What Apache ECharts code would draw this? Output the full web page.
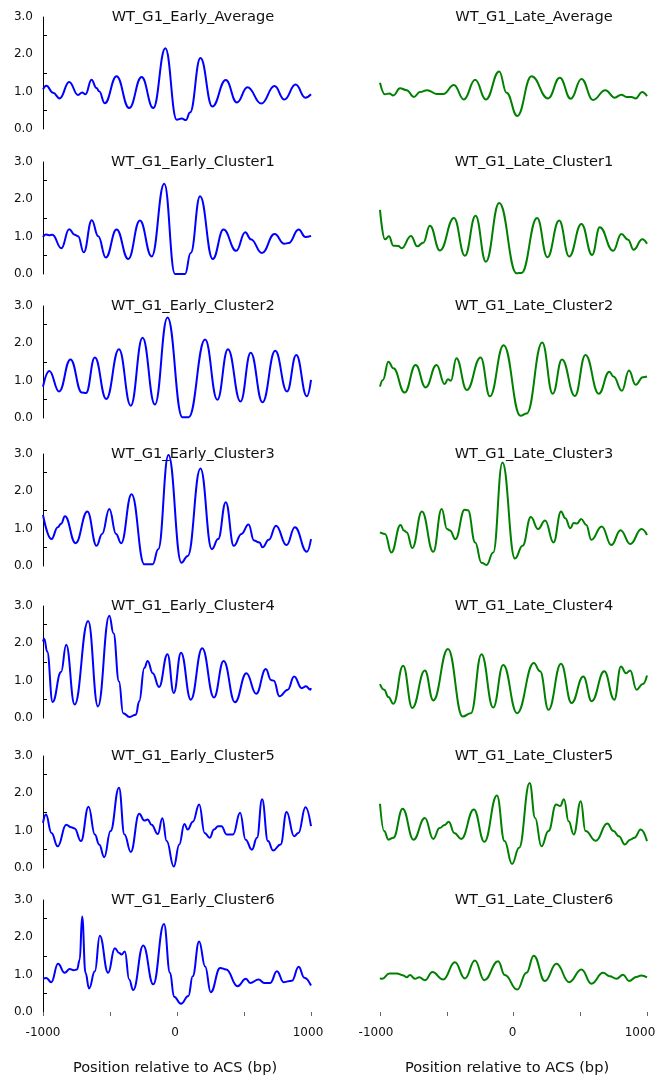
<!DOCTYPE html>
<html>
<head>
<meta charset="utf-8">
<script src="https://cdn.jsdelivr.net/npm/echarts@6/dist/echarts.min.js"></script>
<style>
html,body{margin:0;padding:0;background:#fff;}
#chart{width:657px;height:1083px;}
</style>
</head>
<body>
<div id="chart"></div>
<script>
// ---- data: [position (bp), value] ----
const earlyAverage = [[-1000,1.06],[-975,1.16],[-925,0.97],[-875,0.82],[-805,1.26],[-738,0.91],[-708,0.98],[-683,0.93],[-638,1.32],[-601,1.10],[-581,1.01],[-539,0.69],[-451,1.41],[-357,0.56],[-264,1.39],[-177,0.56],[-87,2.16],[-2,0.25],[35,0.28],[67,0.24],[97,0.44],[175,1.90],[264,0.60],[364,1.31],[447,0.71],[526,1.12],[629,0.68],[728,1.15],[801,0.79],[885,1.19],[958,0.84],[1000,0.93]];
const lateAverage = [[-1000,1.24],[-963,0.93],[-930,0.95],[-900,0.90],[-850,1.09],[-800,1.04],[-746,0.86],[-701,0.99],[-646,1.04],[-576,0.94],[-526,0.94],[-446,1.18],[-372,0.79],[-287,1.32],[-207,0.79],[-107,1.54],[-52,0.97],[28,0.35],[135,1.41],[259,0.82],[347,1.37],[429,0.81],[509,1.34],[596,0.78],[688,1.04],[758,0.84],[808,0.92],[846,0.86],[883,0.86],[915,0.82],[963,0.99],[1000,0.88]];
const earlyCluster1 = [[-1000,0.99],[-980,1.06],[-955,1.04],[-930,1.05],[-863,0.69],[-805,1.20],[-763,1.05],[-738,1.01],[-696,0.58],[-636,1.44],[-588,1.01],[-531,0.44],[-451,1.19],[-364,0.40],[-277,1.43],[-189,0.47],[-95,2.42],[-15,0],[60,0],[102,0.56],[172,2.08],[267,0.40],[347,1.19],[442,0.62],[509,1.12],[551,0.93],[634,0.56],[728,1.07],[801,0.81],[833,0.83],[908,1.19],[958,0.99],[1000,1.02]];
const lateCluster1 = [[-1000,1.72],[-963,0.93],[-933,1.01],[-900,0.76],[-863,0.75],[-838,0.69],[-768,1.02],[-721,0.74],[-676,0.84],[-626,1.29],[-551,0.63],[-446,1.50],[-364,0.49],[-284,1.56],[-207,0.33],[-107,1.90],[23,0.02],[60,0.03],[177,1.50],[254,0.45],[342,1.43],[417,0.47],[509,1.34],[589,0.51],[646,1.25],[746,0.62],[808,1.07],[858,0.92],[900,0.65],[965,0.93],[1000,0.81]];
const earlyCluster2 = [[-1000,0.84],[-953,1.26],[-880,0.71],[-795,1.57],[-710,0.68],[-679,0.67],[-613,1.62],[-528,0.51],[-433,1.84],[-345,0.33],[-257,2.15],[-165,0.36],[-71,2.69],[40,0.02],[87,0.02],[210,2.10],[301,0.49],[380,1.84],[474,0.44],[550,1.75],[638,0.42],[733,1.80],[821,0.71],[890,1.69],[969,0.58],[1000,1.02]];
const lateCluster2 = [[-1000,0.84],[-978,1.02],[-937,1.51],[-900,1.33],[-815,0.68],[-733,1.42],[-658,0.82],[-576,1.42],[-516,0.91],[-491,1.04],[-469,1.00],[-428,1.60],[-350,0.75],[-246,1.62],[-177,0.58],[-74,1.95],[52,0.06],[99,0.12],[215,2.02],[294,0.65],[363,1.57],[460,0.59],[539,1.69],[639,0.65],[718,1.24],[749,1.11],[812,0.73],[865,1.27],[915,0.89],[969,1.09],[1000,1.11]];
const earlyCluster3 = [[-1000,1.37],[-937,0.72],[-890,1.04],[-865,1.13],[-836,1.33],[-757,0.61],[-669,1.46],[-600,0.54],[-559,0.86],[-505,1.53],[-455,0.86],[-417,0.61],[-339,1.92],[-244,0.05],[-181,0.05],[-140,0.45],[-64,2.97],[33,0.09],[80,0.27],[175,2.61],[260,0.45],[307,0.72],[364,1.71],[424,0.54],[481,0.86],[534,1.11],[575,0.68],[616,0.63],[638,0.50],[685,0.70],[739,1.08],[817,0.56],[880,1.04],[969,0.38],[1000,0.72]];
const lateCluster3 = [[-1000,0.90],[-962,0.86],[-915,0.36],[-846,1.10],[-821,0.95],[-799,0.90],[-758,0.48],[-686,1.46],[-601,0.38],[-538,1.53],[-498,0.99],[-476,0.95],[-435,0.72],[-366,1.51],[-341,1.49],[-287,0.63],[-240,0.09],[-202,0.03],[-152,0.36],[-83,2.77],[11,0.20],[68,0.54],[130,1.31],[184,0.99],[237,1.22],[300,0.63],[356,1.46],[388,1.28],[426,1.01],[451,1.15],[476,1.14],[507,1.26],[545,1.10],[583,0.70],[661,1.06],[733,0.56],[802,0.96],[875,0.59],[959,0.99],[1000,0.83]];
const earlyCluster4 = [[-1000,2.05],[-991,2.12],[-969,1.78],[-928,0.43],[-865,1.23],[-827,1.96],[-764,0.36],[-663,2.60],[-590,0.31],[-505,2.74],[-474,2.27],[-433,0.98],[-402,0.13],[-354,0.03],[-307,0.09],[-282,0.45],[-244,1.34],[-219,1.53],[-181,1.20],[-134,0.83],[-71,1.71],[-24,0.67],[30,1.75],[103,0.49],[188,1.87],[276,0.55],[348,1.53],[433,0.42],[518,1.20],[591,0.65],[663,1.31],[701,1.02],[723,1.00],[764,0.58],[827,0.76],[874,1.11],[931,0.80],[962,0.85],[994,0.76],[1000,0.80]];
const lateCluster4 = [[-1000,0.91],[-969,0.76],[-937,0.56],[-900,0.38],[-827,1.40],[-758,0.27],[-664,1.27],[-601,0.47],[-491,1.85],[-381,0.04],[-319,0.13],[-240,1.71],[-152,0.28],[-77,1.42],[27,0.13],[152,1.47],[199,1.25],[262,0.22],[356,1.45],[435,0.40],[523,1.11],[586,0.45],[680,1.25],[755,0.49],[805,1.38],[843,1.20],[874,1.27],[922,0.76],[969,0.91],[1000,1.14]];
const earlyCluster5 = [[-1000,1.21],[-978,1.43],[-937,0.94],[-890,0.58],[-827,1.16],[-789,1.09],[-764,1.06],[-717,0.72],[-660,1.64],[-613,0.90],[-581,0.63],[-543,0.29],[-496,0.99],[-433,2.15],[-392,0.90],[-345,0.43],[-282,1.45],[-244,1.27],[-219,1.30],[-190,1.16],[-143,0.91],[-109,1.33],[-77,0.72],[-24,0.04],[17,0.63],[55,1.18],[80,1.03],[118,1.24],[166,1.70],[206,0.94],[244,0.81],[276,1.03],[307,1.12],[332,1.12],[370,0.90],[418,0.90],[471,1.48],[512,0.76],[559,0.49],[597,0.81],[635,1.84],[679,0.72],[717,0.47],[773,0.63],[818,1.50],[874,0.85],[906,0.94],[959,1.63],[1000,1.12]];
const lateCluster5 = [[-1000,1.72],[-969,0.99],[-937,0.76],[-900,0.81],[-830,1.59],[-749,0.76],[-664,1.34],[-601,0.78],[-554,1.07],[-516,1.15],[-485,1.24],[-444,0.94],[-391,0.78],[-297,1.57],[-218,0.70],[-124,1.94],[-67,0.72],[-11,0.11],[42,0.54],[121,2.28],[162,1.34],[209,0.58],[262,0.99],[319,1.70],[350,1.66],[378,1.84],[413,1.25],[451,0.90],[504,1.79],[539,0.99],[617,0.73],[702,1.19],[749,0.99],[790,0.85],[834,0.63],[874,0.76],[906,0.81],[953,1.03],[1000,0.72]];
const earlyCluster6 = [[-1000,0.90],[-975,0.91],[-938,0.80],[-888,1.29],[-838,1.05],[-800,1.15],[-771,1.12],[-746,1.14],[-726,1.40],[-708,2.56],[-683,1.05],[-656,0.63],[-613,1.09],[-576,2.04],[-514,1.05],[-464,1.71],[-431,1.58],[-414,1.54],[-389,1.62],[-357,0.87],[-327,0.59],[-252,1.78],[-177,0.74],[-97,2.36],[-52,1.05],[-22,0.41],[30,0.22],[85,0.43],[117,0.96],[165,1.89],[210,1.22],[252,0.53],[322,1.18],[367,1.14],[452,0.69],[514,0.89],[546,0.78],[609,0.87],[651,0.78],[696,0.78],[746,1.09],[796,0.80],[858,0.84],[908,1.21],[950,0.92],[1000,0.71]];
const lateCluster6 = [[-1000,0.91],[-983,0.89],[-930,1.03],[-875,1.03],[-825,0.98],[-800,0.93],[-776,0.99],[-738,0.89],[-706,0.93],[-663,0.85],[-608,1.07],[-526,0.87],[-439,1.33],[-364,0.90],[-289,1.38],[-219,0.85],[-115,1.36],[-65,0.99],[28,0.60],[97,1.05],[152,1.51],[235,0.83],[322,1.29],[417,0.80],[509,1.14],[584,0.76],[671,1.05],[721,0.96],[771,0.89],[821,1.00],[866,0.83],[920,0.94],[958,0.98],[1000,0.93]];

const earlyTitles = ['WT_G1_Early_Average','WT_G1_Early_Cluster1','WT_G1_Early_Cluster2','WT_G1_Early_Cluster3','WT_G1_Early_Cluster4','WT_G1_Early_Cluster5','WT_G1_Early_Cluster6'];
const lateTitles = ['WT_G1_Late_Average','WT_G1_Late_Cluster1','WT_G1_Late_Cluster2','WT_G1_Late_Cluster3','WT_G1_Late_Cluster4','WT_G1_Late_Cluster5','WT_G1_Late_Cluster6'];
const earlySeries = [earlyAverage, earlyCluster1, earlyCluster2, earlyCluster3, earlyCluster4, earlyCluster5, earlyCluster6];
const lateSeries = [lateAverage, lateCluster1, lateCluster2, lateCluster3, lateCluster4, lateCluster5, lateCluster6];
const xTicks = [-1000, 0, 1000];
const xLabel = 'Position relative to ACS (bp)';

// ---- layout ----
const FONT = 'DejaVu Sans';
const rowTops = [17, 162, 306, 454, 606, 756, 900];
const gridH = 112;
// label nudges (style): rich keys shift labels slightly left
const cols = [{left: 43, width: 268, titleX: 193, nameX: 175, color: '#0000ff', data: earlySeries, titles: earlyTitles, nudge: ['s0', 's4', 's6']},
              {left: 380, width: 267, titleX: 534, nameX: 507, color: '#008000', data: lateSeries, titles: lateTitles, nudge: ['s8', 's2', 's14']}];
const richBase = {fontSize: 12, fontFamily: FONT, color: '#111'};
const rich = {
  s0: Object.assign({padding: [0, 0, 0, 0]}, richBase),
  s2: Object.assign({padding: [0, 2, 0, 0]}, richBase),
  s4: Object.assign({padding: [0, 4, 0, 0]}, richBase),
  s6: Object.assign({padding: [0, 6, 0, 0]}, richBase),
  s8: Object.assign({padding: [0, 8, 0, 0]}, richBase),
  s14: Object.assign({padding: [0, 14, 0, 0]}, richBase)
};

const grids = [], xAxes = [], yAxes = [], series = [], graphics = [];
let idx = 0;
cols.forEach((col, c) => {
  rowTops.forEach((top, r) => {
    const last = r === rowTops.length - 1;
    grids.push({left: col.left, top: top, width: col.width, height: gridH, containLabel: false, outerBoundsMode: 'none'});
    xAxes.push({
      type: 'value', gridIndex: idx, min: -1000, max: 1000, interval: 500,
      show: last,
      axisLine: {show: false, onZero: false},
      axisTick: {show: true, length: 4, lineStyle: {color: '#666', width: 1}},
      axisLabel: {show: true, margin: 15, fontSize: 12, fontFamily: FONT, color: '#111',
                  showMinLabel: true, showMaxLabel: true, hideOverlap: false, rich: rich,
                  formatter: v => { const k = xTicks.indexOf(v); return k >= 0 ? '{' + col.nudge[k] + '|' + v + '}' : ''; }},
      splitLine: {show: false}
    });
    yAxes.push({
      type: 'value', gridIndex: idx, min: 0, max: 3, interval: 1,
      show: c === 0,
      axisLine: {show: true, onZero: false, lineStyle: {color: '#000', width: 1}},
      axisTick: {show: false},
      minorTick: {show: true, splitNumber: 2, length: -4, lineStyle: {color: '#000', width: 1}},
      axisLabel: {margin: 10, fontSize: 12, fontFamily: FONT, color: '#111', formatter: v => v.toFixed(1)},
      splitLine: {show: false}, minorSplitLine: {show: false}
    });
    series.push({
      type: 'line', xAxisIndex: idx, yAxisIndex: idx, data: col.data[r],
      smooth: 0.45, smoothMonotone: 'x', showSymbol: false, symbol: 'none', clip: true,
      lineStyle: {color: col.color, width: 2}, itemStyle: {color: col.color},
      silent: true
    });
    graphics.push({type: 'text', x: col.titleX, y: top,
      style: {text: col.titles[r], fill: '#111', font: '14.6px "' + FONT + '"', textAlign: 'center', textVerticalAlign: 'middle'}});
    idx++;
  });
  graphics.push({type: 'text', x: col.nameX, y: 1068,
    style: {text: xLabel, fill: '#111', font: '14.6px "' + FONT + '"', textAlign: 'center', textVerticalAlign: 'middle'}});
});

const chart = echarts.init(document.getElementById('chart'), null, {renderer: 'canvas'});
chart.setOption({
  animation: false,
  backgroundColor: '#fff',
  grid: grids, xAxis: xAxes, yAxis: yAxes, series: series,
  graphic: graphics
});
</script>
</body>
</html>
